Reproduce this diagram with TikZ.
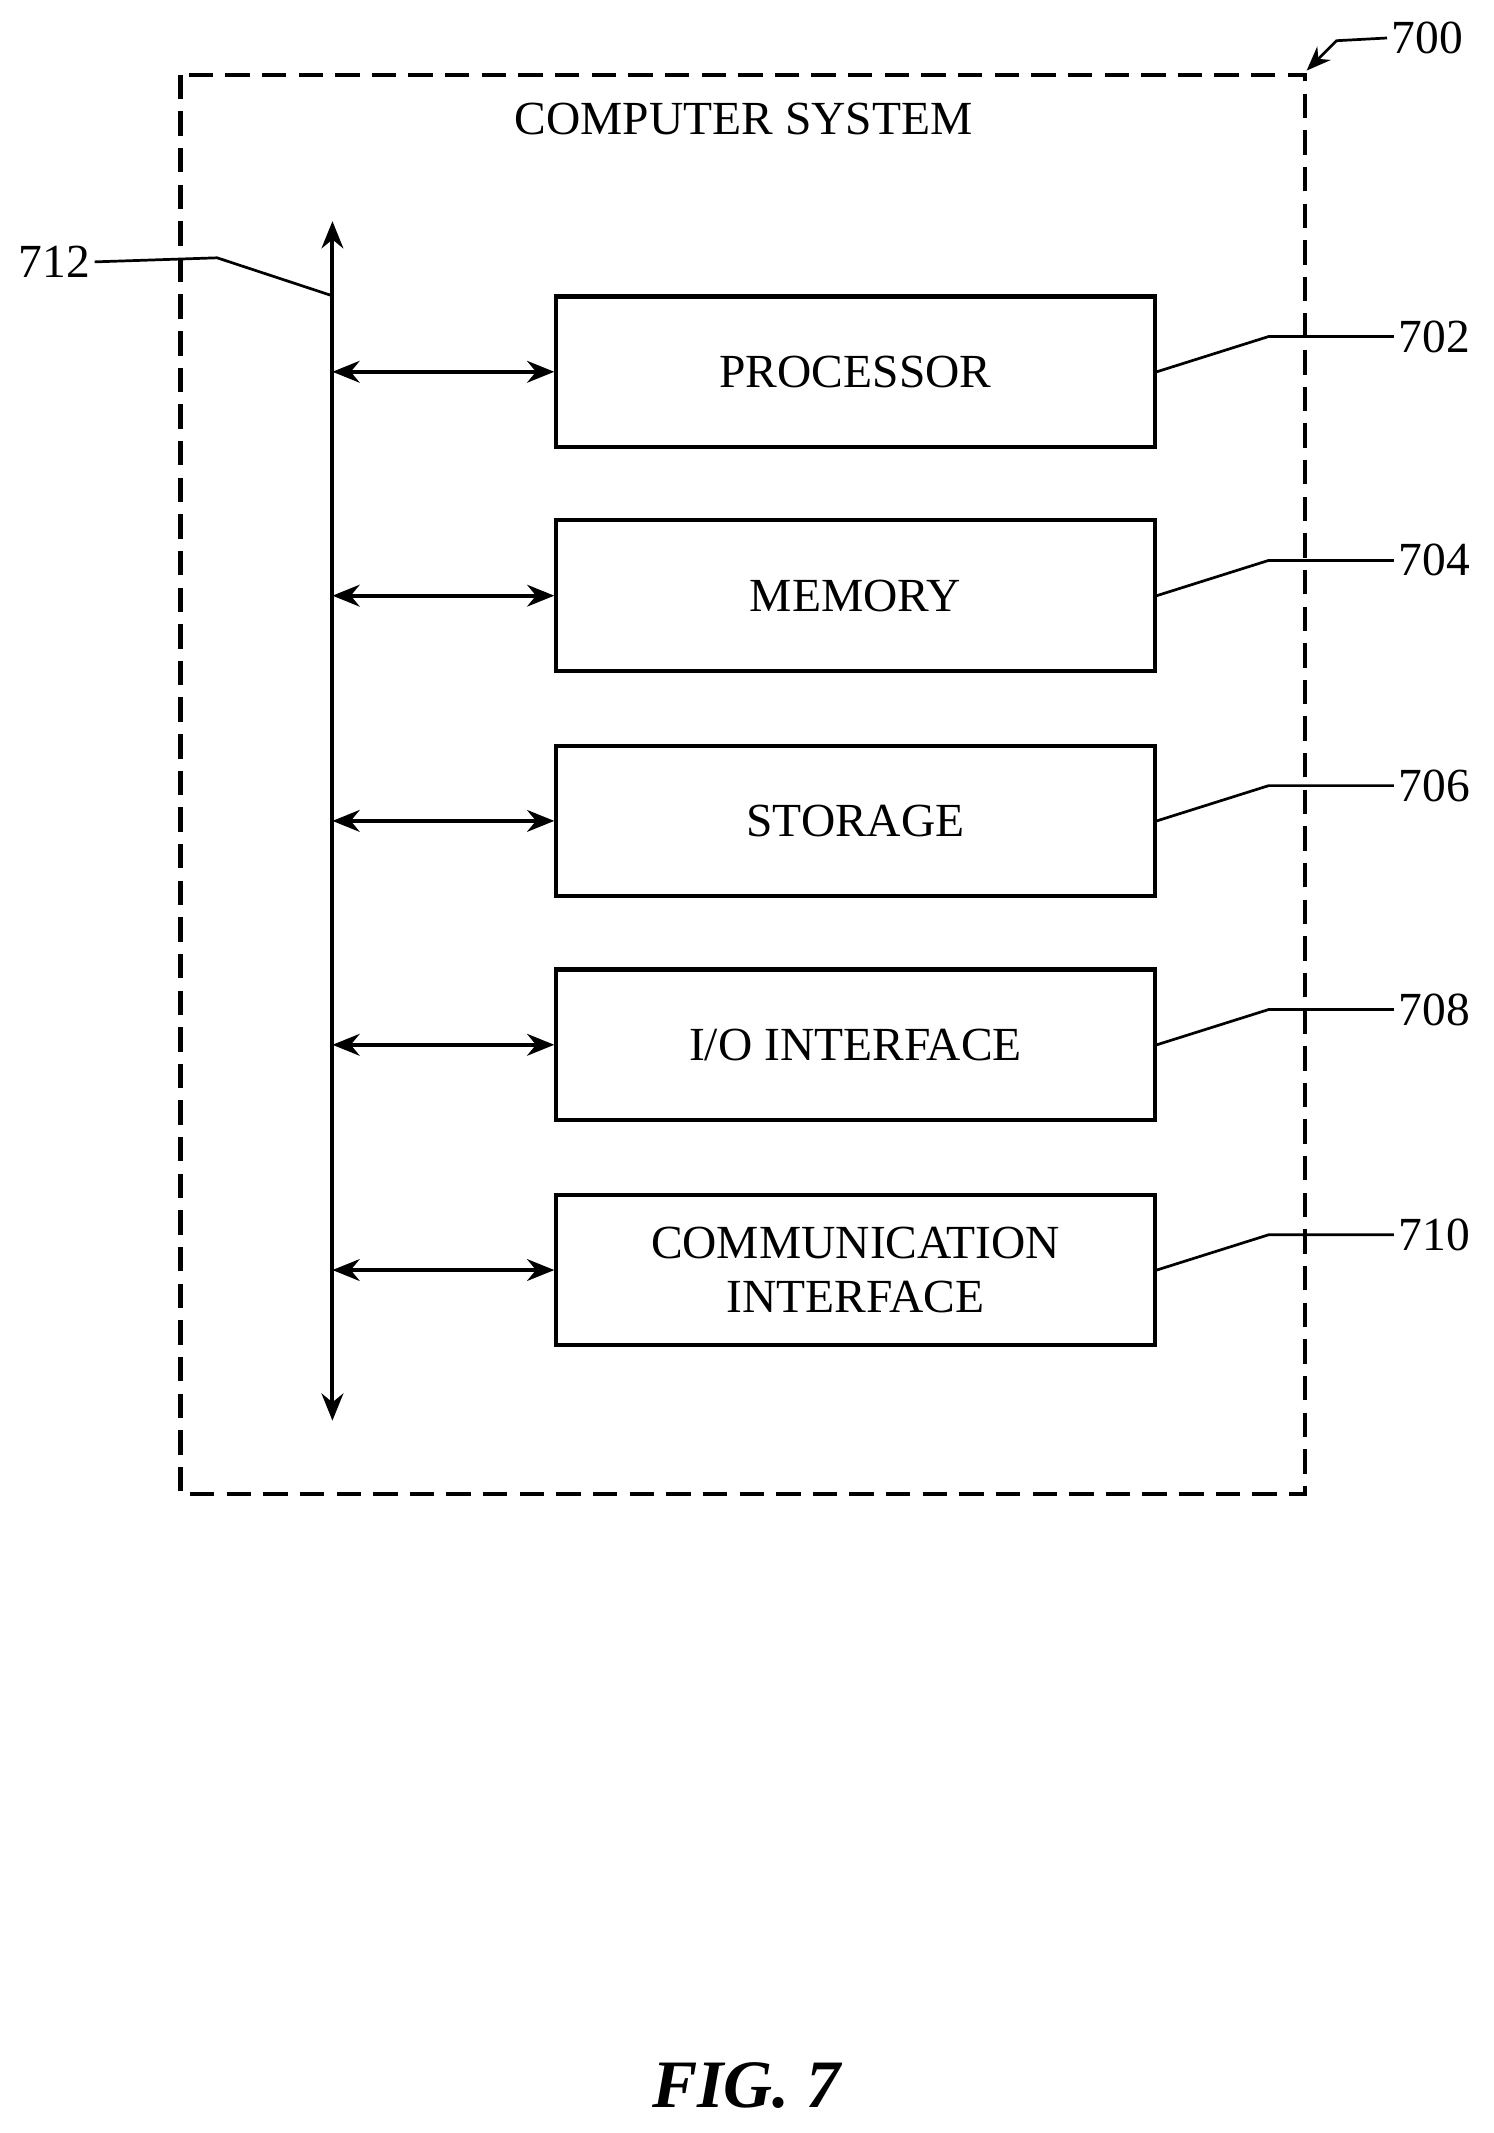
\documentclass[tikz,border=0pt]{standalone}
\usepackage{fontspec}
\setmainfont{Liberation Serif}
\usetikzlibrary{arrows.meta}
\begin{document}
\begin{tikzpicture}[x=1pt,y=-1pt,
  every node/.style={font=\fontsize{35}{40}\selectfont},
  blk/.style={draw,line width=3pt,minimum width=441pt,minimum height=111pt,align=center,inner sep=0pt},
  arr/.style={line width=3pt,{Stealth[length=20pt,width=16pt]}-{Stealth[length=20pt,width=16pt]}},
  lead/.style={line width=2pt},
  num/.style={font=\fontsize{35}{40}\selectfont}]
\useasboundingbox (0,0) rectangle (1101,1572);
\draw[line width=3pt,dash pattern=on 18pt off 9pt] (133,55) rectangle (962,1101);
\node (title) at (548,88) {COMPUTER SYSTEM};
\node[num] (n700) at (1052,28) {700};
\coordinate (c700) at (985,30);
\coordinate (t700) at (963,52);
\draw[lead,-{Stealth[length=18pt,width=14pt]}] (n700.west) -- (c700) -- (t700);
\coordinate (bt) at (245,163);
\coordinate (bb) at (245,1047);
\draw[arr] (bt) -- (bb);
\node[num] (n712) at (40,193) {712};
\coordinate (b712) at (245,218);
\draw[lead] (n712.east) -- (160,190) -- (b712);
\foreach \nm/\txt/\y/\num in {p/PROCESSOR/274/702, m/MEMORY/439/704, s/STORAGE/605/706, io/I\slash O INTERFACE/770/708, c/{COMMUNICATION\\INTERFACE}/936/710}{
  \node[blk] (\nm) at (630.5,\y) {\txt};
  \coordinate (bus\nm) at (245,\y);
  \draw[arr] (bus\nm) -- (\nm.west);
  \node[num] (l\nm) at (1057,\y-26) {\num};
  \draw[lead] (\nm.east) -- (935,\y-26) -- (l\nm.west);
}
\node[font=\fontsize{50}{56}\selectfont\bfseries\itshape] (fig) at (550,1537) {FIG. 7};
\end{tikzpicture}
\end{document}
